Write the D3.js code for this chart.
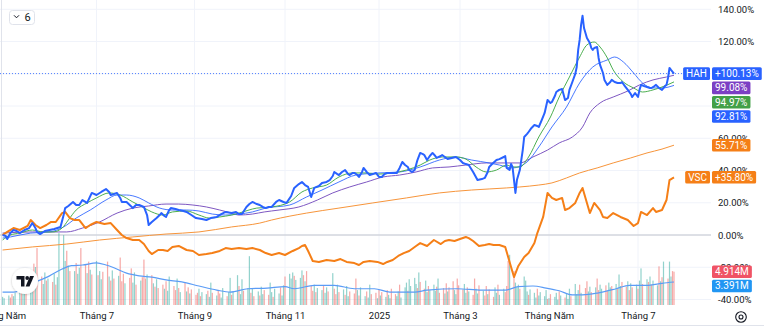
<!DOCTYPE html>
<html><head><meta charset="utf-8">
<script src="https://cdn.jsdelivr.net/npm/d3@7"></script>
<style>
body{margin:0;background:#fff;}
svg{display:block;font-family:Roboto,"Noto Sans",sans-serif;}
</style></head><body>
<svg id="c" width="764" height="328"></svg>
<script>
// ---------- DATA ----------
const tickDates = ["2024-05-01","2024-07-01","2024-09-01","2024-11-01","2025-01-01","2025-03-01","2025-05-01","2025-07-01"];
const tickLabels = ["Tháng Năm","Tháng 7","Tháng 9","Tháng 11","2025","Tháng 3","Tháng Năm","Tháng 7"];
const yTicks = [-40,-20,0,20,40,60,80,100,120,140];

const hah = [["2024-05-02",0.0],["2024-05-04",-0.6],["2024-05-05",-2.5],["2024-05-07",1.2],["2024-05-09",3.1],["2024-05-11",2.5],["2024-05-13",1.2],["2024-05-16",3.1],["2024-05-19",4.3],["2024-05-21",7.4],["2024-05-23",4.3],["2024-05-24",1.9],["2024-05-26",0.6],["2024-05-29",2.5],["2024-06-01",3.1],["2024-06-04",3.7],["2024-06-08",5.0],["2024-06-10",12.4],["2024-06-11",16.7],["2024-06-13",18.0],["2024-06-16",20.5],["2024-06-18",18.6],["2024-06-20",18.6],["2024-06-22",21.7],["2024-06-25",19.9],["2024-06-28",26.1],["2024-07-01",24.8],["2024-07-04",26.7],["2024-07-07",28.5],["2024-07-09",26.7],["2024-07-10",24.8],["2024-07-12",25.4],["2024-07-14",26.1],["2024-07-16",23.0],["2024-07-17",20.5],["2024-07-20",20.5],["2024-07-24",16.7],["2024-07-26",18.6],["2024-07-28",18.6],["2024-07-31",17.4],["2024-08-02",12.4],["2024-08-03",6.2],["2024-08-05",8.1],["2024-08-08",10.5],["2024-08-10",12.4],["2024-08-11",13.6],["2024-08-13",11.8],["2024-08-14",11.2],["2024-08-16",15.5],["2024-08-17",16.7],["2024-08-20",16.1],["2024-08-22",15.5],["2024-08-25",14.9],["2024-08-27",14.3],["2024-08-30",12.4],["2024-09-02",10.5],["2024-09-06",9.9],["2024-09-09",9.3],["2024-09-12",10.5],["2024-09-16",11.2],["2024-09-19",13.0],["2024-09-22",14.3],["2024-09-26",13.6],["2024-09-29",14.3],["2024-10-01",13.0],["2024-10-03",13.0],["2024-10-06",17.4],["2024-10-08",19.2],["2024-10-10",20.5],["2024-10-13",19.2],["2024-10-15",18.6],["2024-10-17",17.4],["2024-10-19",16.7],["2024-10-21",17.4],["2024-10-23",17.4],["2024-10-26",20.5],["2024-10-28",21.7],["2024-10-31",20.5],["2024-11-02",19.9],["2024-11-05",24.2],["2024-11-07",29.2],["2024-11-10",31.6],["2024-11-12",32.9],["2024-11-14",31.0],["2024-11-16",29.8],["2024-11-17",26.7],["2024-11-18",23.6],["2024-11-20",29.2],["2024-11-23",30.4],["2024-11-25",32.3],["2024-11-28",32.9],["2024-11-30",34.1],["2024-12-02",36.6],["2024-12-03",39.1],["2024-12-05",37.8],["2024-12-06",37.2],["2024-12-08",39.1],["2024-12-10",40.3],["2024-12-12",37.8],["2024-12-13",37.2],["2024-12-15",38.5],["2024-12-16",38.5],["2024-12-18",37.2],["2024-12-19",36.0],["2024-12-21",39.1],["2024-12-22",41.6],["2024-12-24",39.1],["2024-12-26",37.2],["2024-12-28",37.8],["2024-12-30",38.5],["2025-01-01",36.0],["2025-01-03",36.0],["2025-01-05",37.8],["2025-01-07",38.5],["2025-01-10",38.5],["2025-01-14",38.5],["2025-01-16",41.6],["2025-01-18",45.3],["2025-01-20",43.4],["2025-01-22",42.2],["2025-01-23",40.3],["2025-01-25",39.1],["2025-01-27",40.3],["2025-01-29",46.5],["2025-01-31",50.9],["2025-02-02",50.2],["2025-02-03",49.6],["2025-02-05",46.5],["2025-02-07",49.0],["2025-02-09",50.9],["2025-02-11",49.0],["2025-02-12",47.8],["2025-02-15",49.0],["2025-02-16",49.6],["2025-02-18",48.4],["2025-02-20",47.1],["2025-02-23",47.8],["2025-02-26",48.4],["2025-03-01",46.5],["2025-03-03",44.7],["2025-03-05",44.0],["2025-03-07",43.4],["2025-03-10",39.1],["2025-03-13",34.1],["2025-03-16",34.7],["2025-03-18",35.4],["2025-03-20",39.1],["2025-03-21",42.2],["2025-03-23",44.0],["2025-03-26",46.5],["2025-03-28",47.1],["2025-03-31",48.4],["2025-04-01",49.0],["2025-04-02",41.6],["2025-04-04",40.3],["2025-04-05",44.0],["2025-04-06",42.2],["2025-04-08",26.1],["2025-04-09",34.1],["2025-04-11",40.3],["2025-04-13",52.7],["2025-04-14",60.8],["2025-04-16",62.7],["2025-04-17",63.9],["2025-04-19",66.4],["2025-04-21",68.2],["2025-04-23",67.6],["2025-04-24",67.0],["2025-04-26",71.3],["2025-04-28",75.7],["2025-04-30",83.7],["2025-05-02",81.9],["2025-05-03",82.5],["2025-05-05",86.2],["2025-05-06",88.7],["2025-05-08",90.0],["2025-05-10",90.6],["2025-05-12",83.7],["2025-05-14",85.0],["2025-05-15",90.0],["2025-05-17",94.9],["2025-05-19",99.9],["2025-05-20",104.2],["2025-05-21",114.8],["2025-05-22",121.0],["2025-05-23",130.3],["2025-05-24",136.0],["2025-05-25",128.4],["2025-05-26",125.3],["2025-05-27",122.2],["2025-05-29",119.1],["2025-05-30",116.0],["2025-05-31",114.8],["2025-06-01",116.0],["2025-06-03",116.6],["2025-06-04",109.8],["2025-06-05",105.5],["2025-06-07",100.5],["2025-06-08",96.2],["2025-06-10",93.1],["2025-06-12",94.9],["2025-06-13",96.2],["2025-06-15",94.9],["2025-06-17",94.3],["2025-06-19",94.3],["2025-06-20",94.9],["2025-06-22",92.4],["2025-06-24",90.0],["2025-06-26",87.5],["2025-06-27",85.6],["2025-06-29",88.1],["2025-07-01",85.6],["2025-07-02",90.0],["2025-07-03",93.1],["2025-07-05",92.4],["2025-07-07",91.8],["2025-07-09",91.2],["2025-07-10",91.2],["2025-07-12",92.4],["2025-07-13",93.1],["2025-07-15",91.2],["2025-07-17",90.0],["2025-07-19",92.4],["2025-07-20",93.1],["2025-07-21",97.4],["2025-07-22",103.6],["2025-07-23",102.4],["2025-07-25",100.13]];

const vsc = [["2024-05-02",0.0],["2024-05-05",1.9],["2024-05-09",4.3],["2024-05-13",3.1],["2024-05-18",5.6],["2024-05-20",9.3],["2024-05-23",6.2],["2024-05-26",4.3],["2024-05-30",6.2],["2024-06-02",8.1],["2024-06-05",8.1],["2024-06-09",13.6],["2024-06-11",14.3],["2024-06-14",10.5],["2024-06-17",9.3],["2024-06-20",9.3],["2024-06-24",4.3],["2024-06-27",6.2],["2024-07-01",8.1],["2024-07-06",6.8],["2024-07-10",7.4],["2024-07-14",3.1],["2024-07-17",0.0],["2024-07-20",-1.9],["2024-07-24",-3.1],["2024-07-28",-3.1],["2024-07-31",-5.6],["2024-08-03",-9.9],["2024-08-05",-11.8],["2024-08-09",-9.3],["2024-08-12",-9.3],["2024-08-15",-9.9],["2024-08-18",-7.4],["2024-08-22",-6.8],["2024-08-27",-9.3],["2024-08-31",-9.9],["2024-09-04",-12.4],["2024-09-09",-11.8],["2024-09-13",-11.2],["2024-09-18",-9.9],["2024-09-22",-8.1],["2024-09-26",-8.7],["2024-10-01",-8.1],["2024-10-06",-8.7],["2024-10-10",-8.1],["2024-10-15",-9.3],["2024-10-19",-11.2],["2024-10-23",-12.4],["2024-10-28",-11.2],["2024-11-01",-12.4],["2024-11-06",-9.9],["2024-11-10",-8.1],["2024-11-12",-6.8],["2024-11-14",-6.2],["2024-11-16",-9.9],["2024-11-19",-16.1],["2024-11-23",-16.7],["2024-11-28",-15.5],["2024-12-03",-16.1],["2024-12-07",-14.9],["2024-12-11",-16.7],["2024-12-16",-17.4],["2024-12-19",-18.6],["2024-12-22",-16.7],["2024-12-26",-16.1],["2024-12-31",-16.7],["2025-01-04",-18.0],["2025-01-07",-16.7],["2025-01-11",-15.5],["2025-01-15",-13.0],["2025-01-19",-11.2],["2025-01-23",-9.9],["2025-01-28",-6.8],["2025-01-31",-5.0],["2025-02-05",-6.8],["2025-02-10",-3.1],["2025-02-15",-5.6],["2025-02-18",-3.7],["2025-02-21",-3.1],["2025-02-25",-3.7],["2025-03-01",-2.5],["2025-03-05",-1.2],["2025-03-07",-1.9],["2025-03-10",-3.7],["2025-03-14",-6.8],["2025-03-18",-6.2],["2025-03-21",-5.6],["2025-03-24",-6.2],["2025-03-28",-6.2],["2025-03-30",-6.8],["2025-04-01",-7.4],["2025-04-03",-13.6],["2025-04-05",-19.9],["2025-04-07",-26.1],["2025-04-10",-19.2],["2025-04-14",-13.6],["2025-04-17",-11.2],["2025-04-21",-5.0],["2025-04-23",1.2],["2025-04-27",11.2],["2025-04-30",26.1],["2025-05-03",23.0],["2025-05-06",21.7],["2025-05-10",23.0],["2025-05-12",15.5],["2025-05-15",16.7],["2025-05-19",19.9],["2025-05-22",26.1],["2025-05-24",29.2],["2025-05-27",19.9],["2025-05-29",13.6],["2025-06-01",19.9],["2025-06-05",15.5],["2025-06-07",11.2],["2025-06-10",10.5],["2025-06-14",13.6],["2025-06-19",11.2],["2025-06-24",9.3],["2025-06-28",5.6],["2025-07-01",7.4],["2025-07-03",14.3],["2025-07-07",12.4],["2025-07-11",16.7],["2025-07-13",14.3],["2025-07-17",15.5],["2025-07-20",21.7],["2025-07-22",34.1],["2025-07-25",35.8]];

const maGreen = [["2024-05-02",-3.1],["2024-05-07",0.0],["2024-05-13",1.2],["2024-05-21",3.1],["2024-05-28",1.9],["2024-06-03",1.9],["2024-06-09",4.3],["2024-06-13",9.3],["2024-06-18",15.5],["2024-06-25",19.9],["2024-07-01",23.0],["2024-07-09",26.1],["2024-07-16",24.8],["2024-07-24",20.5],["2024-07-30",17.4],["2024-08-05",14.3],["2024-08-12",12.4],["2024-08-18",14.3],["2024-08-27",14.9],["2024-09-04",12.4],["2024-09-11",10.5],["2024-09-18",11.2],["2024-09-26",12.4],["2024-10-01",13.6],["2024-10-13",16.7],["2024-10-23",17.4],["2024-11-04",20.5],["2024-11-12",26.7],["2024-11-19",29.2],["2024-11-28",31.0],["2024-12-06",36.0],["2024-12-15",38.5],["2024-12-24",38.5],["2025-01-01",37.8],["2025-01-11",38.5],["2025-01-21",40.3],["2025-01-31",43.4],["2025-02-07",46.5],["2025-02-16",48.4],["2025-02-26",48.4],["2025-03-05",47.1],["2025-03-12",42.2],["2025-03-19",39.1],["2025-03-26",40.3],["2025-04-02",43.4],["2025-04-06",42.2],["2025-04-11",42.2],["2025-04-17",48.4],["2025-04-24",60.8],["2025-05-02",73.2],["2025-05-08",85.6],["2025-05-15",98.0],["2025-05-22",110.4],["2025-05-27",117.9],["2025-06-01",119.7],["2025-06-05",116.6],["2025-06-10",109.8],["2025-06-14",102.4],["2025-06-21",94.9],["2025-06-28",91.2],["2025-07-04",88.7],["2025-07-11",90.0],["2025-07-17",91.8],["2025-07-25",94.97]];

const maBlue = [["2024-05-02",-1.9],["2024-05-07",-1.2],["2024-05-20",1.2],["2024-06-01",1.9],["2024-06-10",5.0],["2024-06-18",10.5],["2024-06-27",15.5],["2024-07-07",21.7],["2024-07-14",24.8],["2024-07-20",24.8],["2024-07-28",23.0],["2024-08-03",19.9],["2024-08-10",16.7],["2024-08-18",15.5],["2024-08-27",15.5],["2024-09-04",14.9],["2024-09-13",13.0],["2024-09-22",12.4],["2024-10-01",13.0],["2024-10-10",14.3],["2024-10-19",16.7],["2024-11-04",18.6],["2024-11-15",23.6],["2024-11-25",27.9],["2024-12-06",32.9],["2024-12-17",37.2],["2025-01-01",38.5],["2025-01-16",39.1],["2025-01-31",42.2],["2025-02-14",46.5],["2025-02-26",48.4],["2025-03-09",46.5],["2025-03-21",44.7],["2025-03-28",43.4],["2025-04-06",41.6],["2025-04-16",45.3],["2025-04-24",54.6],["2025-05-03",67.0],["2025-05-13",79.4],["2025-05-22",94.3],["2025-05-31",104.2],["2025-06-10",108.6],["2025-06-15",110.4],["2025-06-21",107.3],["2025-06-28",100.5],["2025-07-04",94.3],["2025-07-11",91.2],["2025-07-17",91.2],["2025-07-25",92.81]];

const maPurple = [["2024-05-02",1.2],["2024-05-21",1.9],["2024-06-12",1.9],["2024-06-22",4.3],["2024-07-03",8.1],["2024-07-14",13.6],["2024-07-24",16.7],["2024-08-03",18.0],["2024-08-14",19.2],["2024-08-22",19.2],["2024-08-31",18.6],["2024-09-09",17.4],["2024-09-18",15.5],["2024-09-26",13.6],["2024-10-01",12.4],["2024-10-10",13.0],["2024-10-18",14.3],["2024-10-28",15.5],["2024-11-10",17.4],["2024-11-22",21.7],["2024-12-02",26.1],["2024-12-13",29.8],["2024-12-24",32.9],["2025-01-04",36.0],["2025-01-16",37.2],["2025-01-28",39.1],["2025-02-09",41.6],["2025-02-21",42.2],["2025-03-05",43.4],["2025-03-19",44.7],["2025-04-02",44.7],["2025-04-11",44.7],["2025-04-20",48.4],["2025-04-30",52.7],["2025-05-08",57.1],["2025-05-17",60.8],["2025-05-24",67.0],["2025-05-29",75.7],["2025-06-05",81.9],["2025-06-14",85.6],["2025-06-24",89.3],["2025-07-02",93.1],["2025-07-11",96.2],["2025-07-20",98.0],["2025-07-25",99.08]];

const maOrange = [["2024-05-02",-9.3],["2024-05-21",-7.4],["2024-06-12",-5.6],["2024-07-03",-3.1],["2024-07-24",-1.2],["2024-08-14",0.6],["2024-09-04",1.9],["2024-09-26",5.0],["2024-10-15",7.4],["2024-10-23",9.3],["2024-11-15",13.6],["2024-12-06",16.7],["2024-12-28",19.9],["2025-01-21",23.0],["2025-02-14",26.1],["2025-03-09",27.9],["2025-04-02",29.2],["2025-04-11",29.8],["2025-04-24",31.0],["2025-05-03",32.3],["2025-05-13",35.4],["2025-05-22",38.5],["2025-06-03",41.6],["2025-06-14",44.7],["2025-06-26",47.8],["2025-07-07",50.9],["2025-07-17",53.3],["2025-07-25",55.71]];

const volMA = [["2024-05-02",1.9],["2024-05-09",1.9],["2024-05-21",3.2],["2024-06-01",4.3],["2024-06-09",5.3],["2024-06-15",5.8],["2024-06-22",5.9],["2024-07-01",6.2],["2024-07-07",5.9],["2024-07-12",5.5],["2024-07-20",4.7],["2024-07-28",4.3],["2024-08-05",4.1],["2024-08-14",3.7],["2024-08-24",3.4],["2024-09-04",2.8],["2024-09-16",2.2],["2024-09-25",1.9],["2024-10-07",2.4],["2024-10-20",2.5],["2024-11-01",2.7],["2024-11-07",2.4],["2024-11-20",2.9],["2024-12-03",2.9],["2024-12-16",2.4],["2024-12-29",2.4],["2025-01-09",1.9],["2025-01-27",1.9],["2025-02-05",2.2],["2025-02-27",2.4],["2025-03-16",2.2],["2025-04-01",2.2],["2025-04-10",2.7],["2025-04-20",2.8],["2025-04-29",2.5],["2025-05-08",2.1],["2025-05-17",1.5],["2025-05-24",1.5],["2025-06-04",1.8],["2025-06-16",2.4],["2025-06-25",2.9],["2025-07-08",2.9],["2025-07-17",3.2],["2025-07-25",3.391]];

// daily volume (millions), one value per weekday from 2024-05-02 to 2025-07-25
const volumes = [
 1.2,1.0,
 1.4,1.1,1.6,1.3,1.8, 1.9,2.6,2.2,3.0,2.4, 5.2,4.5,6.1,5.6,8.4, 4.2,3.1,4.8,3.6,3.9,
 3.4,4.6,3.0,4.1,10.6, 10.3,6.5,8.0,5.8,5.0, 5.0,6.2,4.6,5.5,8.4, 6.0,4.7,6.4,5.2,4.5,
 6.5,4.4,5.0,3.8,4.9, 6.4,4.2,3.6,5.1,3.9, 4.3,7.0,3.5,4.6,3.2, 4.0,5.4,3.3,4.8,3.0,
 3.6,4.1,6.7,3.9,4.5, 4.4,3.2,2.7,3.8,2.5, 3.0,2.4,3.5,2.1,4.2, 2.8,2.2,3.9,2.5,1.9,
 3.3,2.0,2.6,1.7,2.3, 1.5,1.8,2.4,1.3,1.9, 1.6,2.1,1.2,3.3,1.8, 1.4,2.2,1.7,1.1,2.5,
 1.3,1.9,4.0,1.5,2.0, 4.4,2.8,1.6,3.8,2.1, 2.5,7.2,1.8,2.4,1.3, 2.0,1.4,2.7,1.6,2.2,
 1.5,3.3,1.9,1.2,2.4, 1.7,2.6,1.4,2.9,4.2, 4.6,3.9,4.8,4.3,3.7, 4.0,5.1,4.4,3.5,5.0,
 2.8,2.1,3.0,1.9,2.5, 2.2,2.9,1.8,2.6,2.0, 4.7,2.4,1.6,3.0,1.9, 2.3,1.5,2.8,1.3,2.0,
 1.7,3.9,2.2,1.4,2.6, 1.3,2.0,1.1,3.0,1.6, 1.8,1.0,2.3,1.4,1.9, 1.2,2.2,1.5,1.0,2.4,
 1.6,1.3,2.0,3.0,1.1, 2.6,3.3,2.1,3.8,2.8, 4.0,3.1,2.5,4.8,3.4, 2.4,3.6,1.9,2.8,2.2,
 3.0,2.1,2.7,3.9,1.8, 2.5,1.7,3.2,2.0,2.6, 3.5,2.2,1.6,3.9,2.9, 2.3,3.1,1.8,2.6,2.0,
 1.5,3.9,2.4,1.7,2.9, 2.1,1.4,2.8,1.6,2.3, 1.2,2.6,1.8,3.0,1.5, 2.4,1.9,2.8,6.5,7.4,
 5.0,3.3,2.6,3.0,2.4, 4.2,3.6,2.0,1.5,2.3, 1.8,1.1,2.4,1.4,1.9, 1.3,2.2,0.9,1.0,1.6,
 1.2,1.8,0.8,2.0,1.4, 1.1,1.7,0.9,2.4,1.3, 3.1,1.6,2.2,3.0,1.8, 2.5,3.5,2.0,2.7,1.9,
 2.6,3.9,2.2,3.0,2.4, 2.9,2.1,3.3,2.6,2.8, 3.1,2.4,4.5,2.8,3.4, 2.7,3.5,2.2,3.2,2.6,
 3.0,2.4,3.6,5.4,3.1, 3.8,3.4,4.2,3.0,3.6, 2.9,5.7,3.5,4.1,6.4, 3.9,6.4,4.2,5.0,4.914
];
// up (u) / down (d) day for each volume bar
const volDir = ["uu","udduu","uduud","uudud","duudu","duduu","uudud","uduud","dudud","uduud","dudud","udddu","dduud","udddu","dudud","duduu","ddudu","dudud","ddudu","uduud","udduu","duudu","uduud","uudud","uduud","duudu","uduud","uuudu","uudud","ddudu","uduud","uddud","uduud","ddudu","uduud","dudud","uduud","duudu","uuduu","uudud","duudu","uudud","dudud","duudd","duudu","dduud","uddud","duudu","udddu","duuud","uuudu","uuduu","uudud","uuudu","duuud","uuudu","dduud","udduu","dduud","uduud","dudud","uduud","ududu","ududu","duudd"].join("");

// ---------- CHART ----------
const parse = d3.timeParse("%Y-%m-%d");
const svg = d3.select("#c");
const plotR = 711, plotB = 305;

const x = d3.scaleTime()
  .domain(tickDates.concat(["2025-08-01"]).map(parse))
  .range([1, 96.5, 194.5, 285, 379, 460, 549, 638, 684.5]);
const y = d3.scaleLinear().domain([-40, 140]).range([299.5, 9.3]);
const yv = d3.scaleLinear().domain([0, 10]).range([plotB, plotB - 67.8]);

const toPts = arr => arr.map(d => ({date: parse(d[0]), v: d[1]}));

// grid
const grid = svg.append("g");
grid.selectAll("line.h").data(yTicks).join("line").attr("class","h")
  .attr("x1",0).attr("x2",plotR).attr("y1",d=>y(d)).attr("y2",d=>y(d))
  .attr("stroke","#f0f3fa").attr("stroke-width",1);
grid.selectAll("line.v").data(tickDates.slice(1).map(parse)).join("line").attr("class","v")
  .attr("x1",d=>x(d)).attr("x2",d=>x(d)).attr("y1",0).attr("y2",plotB)
  .attr("stroke","#f0f3fa").attr("stroke-width",1);
svg.append("line").attr("x1",1.5).attr("x2",1.5).attr("y1",0).attr("y2",plotB).attr("stroke","#e0e3eb");
svg.append("line").attr("x1",0).attr("x2",plotR).attr("y1",y(0)).attr("y2",y(0)).attr("stroke","#c3c6ce");
svg.append("line").attr("x1",0).attr("x2",764).attr("y1",325.5).attr("y2",325.5).attr("stroke","#e0e3eb");

// volume bars
const vStart = parse("2024-05-02"), vEnd = parse("2025-07-25");
const volDates = d3.timeDays(vStart, d3.timeDay.offset(vEnd,1)).filter(d => d.getDay() > 0 && d.getDay() < 6);
const volData = volDates.map((d,i) => ({date:d, v: volumes[i], up: volDir[i] === "u"})).filter(d => d.v != null);
svg.append("g").selectAll("rect").data(volData).join("rect")
  .attr("x", d => x(d.date) - 0.6).attr("width", 1.2)
  .attr("y", d => yv(d.v)).attr("height", d => plotB - yv(d.v))
  .attr("fill", d => d.up ? "#26a69a" : "#ef5350").attr("opacity", 0.5);

const line = d3.line().x(d => x(d.date)).y(d => y(d.v));
const smooth = d3.line().x(d => x(d.date)).y(d => y(d.v)).curve(d3.curveMonotoneX);
const vline = d3.line().x(d => x(d.date)).y(d => yv(d.v)).curve(d3.curveMonotoneX);

svg.append("path").datum(toPts(volMA)).attr("d", vline).attr("fill","none").attr("stroke","#5b9cf6").attr("stroke-width",1.2);

const colors = {hah:"#2962ff", vsc:"#f57f17", green:"#4caf50", blue:"#2962ff", purple:"#7e57c2", orange:"#f7953b"};
svg.append("path").datum(toPts(maOrange)).attr("d", smooth).attr("fill","none").attr("stroke",colors.orange).attr("stroke-width",1);
svg.append("path").datum(toPts(maPurple)).attr("d", smooth).attr("fill","none").attr("stroke",colors.purple).attr("stroke-width",1);
svg.append("path").datum(toPts(maBlue)).attr("d", smooth).attr("fill","none").attr("stroke",colors.blue).attr("stroke-width",1).attr("opacity",0.85);
svg.append("path").datum(toPts(maGreen)).attr("d", smooth).attr("fill","none").attr("stroke",colors.green).attr("stroke-width",1);
svg.append("path").datum(toPts(vsc)).attr("d", line).attr("fill","none").attr("stroke",colors.vsc).attr("stroke-width",2).attr("stroke-linejoin","round");
svg.append("path").datum(toPts(hah)).attr("d", line).attr("fill","none").attr("stroke",colors.hah).attr("stroke-width",2).attr("stroke-linejoin","round");

// last-value dotted line
const hahLast = hah[hah.length-1][1];
svg.append("line").attr("x1",0).attr("x2",686).attr("y1",y(hahLast)).attr("y2",y(hahLast))
  .attr("stroke",colors.hah).attr("stroke-width",1).attr("stroke-dasharray","1,2").attr("opacity",0.8);

// value labels on the scale (positions computed first so covered ticks can be skipped)
const last = a => a[a.length-1][1];
const labels = [
  {y: y(hahLast), text: "+" + hahLast.toFixed(2) + "%", fill: colors.hah, name: "HAH"},
  {y: y(last(maPurple)), text: last(maPurple).toFixed(2) + "%", fill: "#7b3fc4"},
  {y: y(last(maGreen)), text: last(maGreen).toFixed(2) + "%", fill: "#43a047"},
  {y: y(last(maBlue)), text: last(maBlue).toFixed(2) + "%", fill: "#2962ff"},
  {y: y(last(maOrange)), text: last(maOrange).toFixed(2) + "%", fill: "#f57f17"},
  {y: y(last(vsc)), text: "+" + last(vsc).toFixed(2) + "%", fill: "#f57f17", name: "VSC"},
  {y: yv(volumes[volumes.length-1]), text: volumes[volumes.length-1].toFixed(3) + "M", fill: "#f05365"},
  {y: yv(last(volMA)), text: last(volMA).toFixed(3) + "M", fill: "#2196f3"}
].sort((a,b) => a.y - b.y);
let prev = -Infinity;
labels.forEach(l => { l.yc = Math.max(l.y, prev + 14.3); prev = l.yc; });
const BH = 12.6;
// a tick label is hidden when the label boxes cover (almost) all of it
function covered(yt) {
  const top = yt - 3.5, bot = yt + 3.5;
  let visible = 0;
  for (let s = top; s < bot; s += 0.25) {
    const hit = labels.some(l => s >= l.yc - BH/2 && s <= l.yc + BH/2);
    if (!hit) visible += 0.25;
  }
  return visible < 1.5;
}

// axes
const xa = d3.axisBottom(x).tickValues(tickDates.map(parse)).tickFormat((d,i) => tickLabels[i]).tickSize(0).tickPadding(0);
const gx = svg.append("g").attr("transform","translate(0,312)").call(xa);
gx.select(".domain").remove();
gx.selectAll("text").attr("fill","#131722").style("font-size","9.5px").style("font-family","Roboto,sans-serif");

const ya = d3.axisRight(y).tickValues(yTicks.filter(t => !covered(y(t)))).tickFormat(d => d.toFixed(2) + "%").tickSize(0).tickPadding(0);
const gy = svg.append("g").attr("transform","translate(718,0)").call(ya);
gy.select(".domain").remove();
gy.selectAll("text").attr("fill","#131722").style("font-size","9.5px").style("font-family","Roboto,sans-serif");

function box(x0, yc, text, fill, alignRight) {
  const g = svg.append("g");
  const r = g.append("rect").attr("fill", fill).attr("rx", 1.5);
  const t = g.append("text").attr("y", yc).attr("dy", "0.35em").attr("fill", "#fff")
    .style("font-size", "10px").text(text);
  const w = t.node().getComputedTextLength() + 6;
  const left = alignRight ? x0 - w : x0;
  r.attr("x", left).attr("y", yc - BH/2).attr("width", w).attr("height", BH);
  t.attr("x", left + 3);
}
labels.forEach(l => {
  box(712, l.yc, l.text, l.fill, false);
  if (l.name) box(710, l.yc, l.name, l.fill, true);
});

// interval button
svg.append("rect").attr("x",9.5).attr("y",10.5).attr("width",25).attr("height",14).attr("rx",3)
  .attr("fill","#fff").attr("stroke","#e0e3eb");
svg.append("path").attr("d","M14,15.3 L16.5,17.8 L19,15.3").attr("fill","none").attr("stroke","#131722").attr("stroke-width",1);
svg.append("text").attr("x",24.5).attr("y",21).attr("fill","#131722").style("font-size","11px").text("6");

// logo
const defs = svg.append("defs");
const f = defs.append("filter").attr("id","sh").attr("x","-50%").attr("y","-50%").attr("width","200%").attr("height","200%");
f.append("feDropShadow").attr("dx",0).attr("dy",0.5).attr("stdDeviation",1.2).attr("flood-color","#000").attr("flood-opacity",0.25);
svg.append("circle").attr("cx",25).attr("cy",281).attr("r",13).attr("fill","#fff").attr("filter","url(#sh)");
svg.append("path").attr("d","M16.5,276 H24.5 V286.5 H21 V279.5 H16.5 Z").attr("fill","#131722");
svg.append("circle").attr("cx",27.2).attr("cy",278).attr("r",1.9).attr("fill","#131722");
svg.append("path").attr("d","M30,276 H34 L29.5,286.5 H25.6 Z").attr("fill","#131722");

// settings icon
svg.append("circle").attr("cx",741).attr("cy",317).attr("r",5.3).attr("fill","none").attr("stroke","#131722").attr("stroke-width",1.1);
svg.append("circle").attr("cx",741).attr("cy",317).attr("r",2).attr("fill","none").attr("stroke","#131722").attr("stroke-width",1.1);
</script>
</body></html>
